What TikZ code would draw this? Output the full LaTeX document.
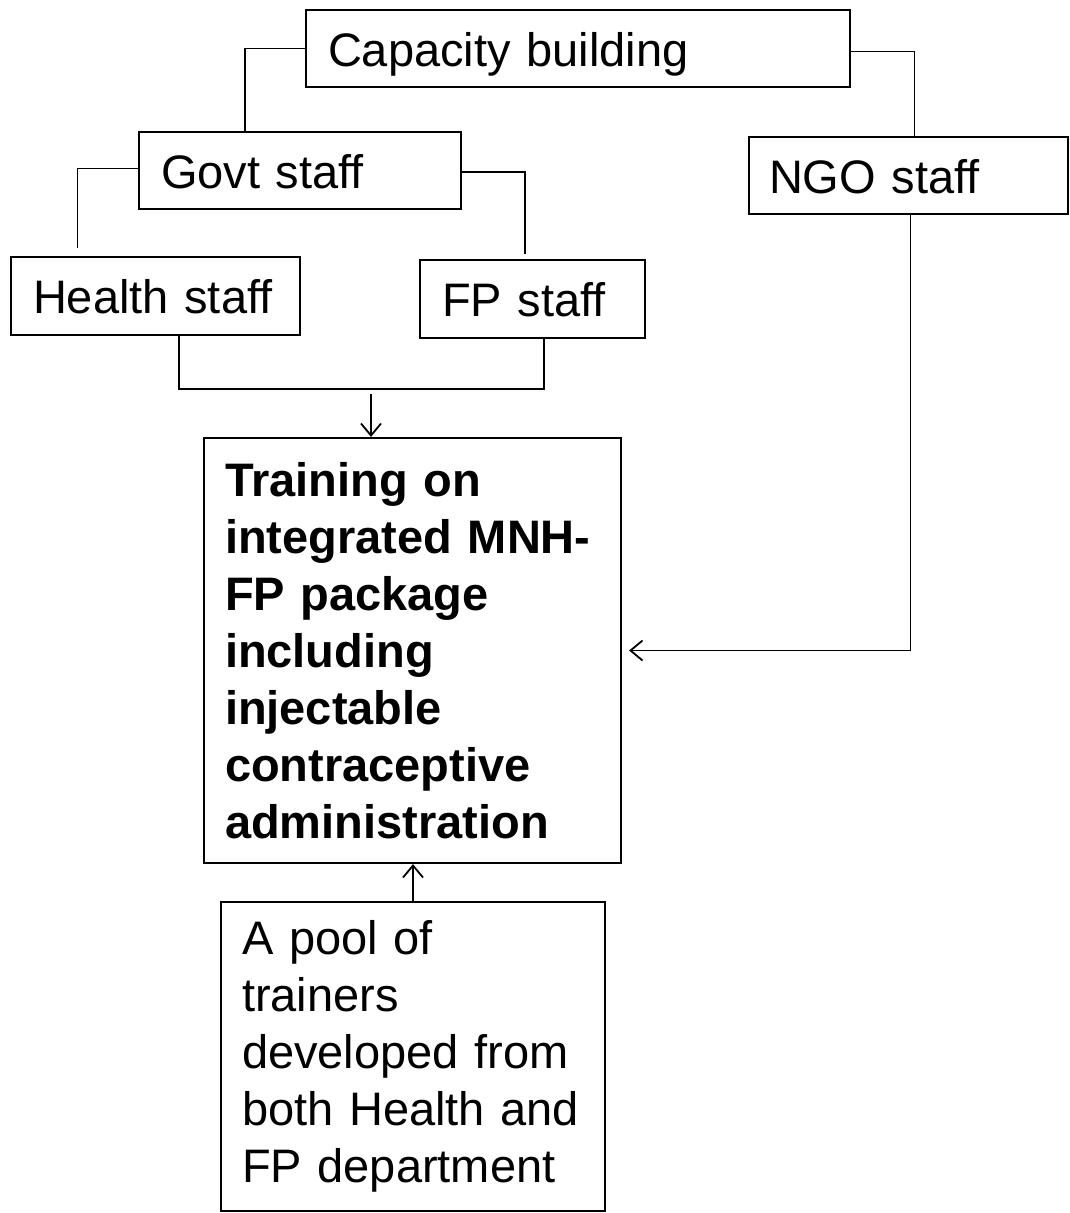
\documentclass[tikz,border=0pt]{standalone}
\usepackage{fontspec}
\setmainfont{Liberation Sans}
\usetikzlibrary{arrows.meta}
\definecolor{titleblue}{RGB}{31,56,120}
\begin{document}
\begin{tikzpicture}[x=1pt,y=-1pt,
  box/.style={draw, line width=2.2pt, font=\fontsize{47}{57}\selectfont, inner xsep=22pt, inner ysep=0pt, align=left, anchor=center},
  one/.style={box, text height=35pt, text depth=0pt},
  link/.style={line width=1.8pt},
  arr/.style={link, -{Straight Barb[length=12pt,width=20pt,line width=1.8pt]}}]
\useasboundingbox (0,0) rectangle (1069,1213);
\begin{scope}
\clip (0,0) rectangle (1069,1213);
\node[anchor=base west, inner sep=0pt, font=\fontsize{75}{85}\selectfont\bfseries, text=titleblue] (title) at (245,-16.5) {Capacity building};
\end{scope}
\node[one, text width=500pt, minimum height=77pt] (cap) at (578,48.5) {Capacity building};
\node[one, text width=278pt, minimum height=77pt] (govt) at (300,170.5) {Govt staff};
\node[one, text width=245pt, minimum height=78pt] (health) at (155.5,296) {Health staff};
\node[one, text width=181pt, minimum height=78pt] (fp) at (532.5,299) {FP staff};
\node[one, text width=279pt, inner xsep=20pt, minimum height=77pt] (ngo) at (908.5,175.5) {NGO staff};
\node[box, text width=375pt, inner xsep=21pt, minimum height=425pt, font=\fontsize{47}{57}\selectfont\bfseries] (main) at (412.5,650.5) {Training on\\integrated MNH-\\FP package\\including\\injectable\\contraceptive\\administration};
\node[box, text width=342pt, inner xsep=21pt, minimum height=309pt] (pool) at (413,1056.5) {A pool of\\trainers\\developed from\\both Health and\\FP department};
% connectors
\draw[link] (cap.west) -| ([xshift=-55pt]govt.north);
\draw[link] ([yshift=-3pt]cap.east) -| ([xshift=6pt]ngo.north);
\draw[link] ([yshift=2pt]govt.west) -| ([xshift=-78pt,yshift=8pt]health.north);
\draw[link] ([yshift=-1.5pt]govt.east) -| ([xshift=-7.5pt,yshift=5pt]fp.north);
\draw[link] ([xshift=23.5pt]health.south) -- ++(0,53) coordinate (merge) -| ([xshift=11.5pt]fp.south);
\coordinate (drop) at (371,394);
\draw[arr] (drop) -- (drop |- main.north);
\draw[arr] ([xshift=2pt]ngo.south) |- ([xshift=7pt]main.east);
\draw[arr] (pool.north) -- (pool.north |- main.south);
\end{tikzpicture}
\end{document}
